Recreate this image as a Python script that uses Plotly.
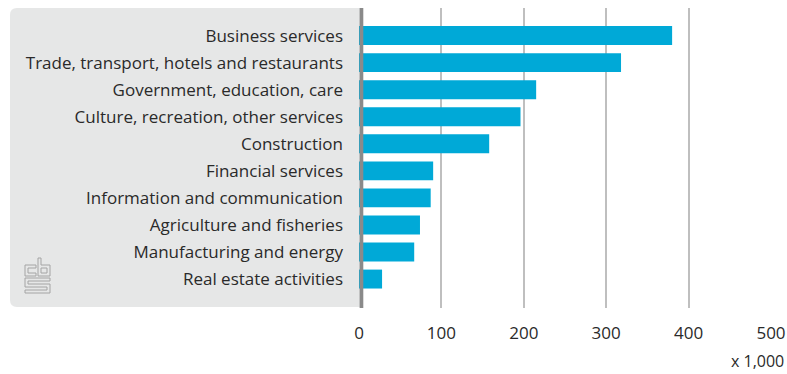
import plotly.graph_objects as go

categories = [
    "Business services",
    "Trade, transport, hotels and restaurants",
    "Government, education, care",
    "Culture, recreation, other services",
    "Construction",
    "Financial services",
    "Information and communication",
    "Agriculture and fisheries",
    "Manufacturing and energy",
    "Real estate activities",
]
values = [380, 318, 215, 196, 158, 90, 87, 74, 67, 28]
x_ticks = [0, 100, 200, 300, 400, 500]
x_tick_labels = ["0", "100", "200", "300", "400", "500"]
unit_label = "x 1,000"

W, H = 787, 374
L, R, T, B = 359, 16, 8, 66
PW, PH = W - L - R, H - T - B


def X(px):
    return (px - L) / PW


def Y(py):
    return (T + PH - py) / PH


FONT = "Open Sans"
FS = 17
TEXT = "#2a2a2a"

fig = go.Figure()
fig.add_trace(go.Bar(
    x=values, y=categories, orientation="h",
    marker=dict(color="#00a9d7", line=dict(width=0)),
    width=0.70,
    hoverinfo="x+y",
))

shapes = []
# grey panel with rounded left corners
r = 7
x0, x1, y0, y1 = 10, 360, 8, 307
path = (f"M {X(x1)},{Y(y0)} L {X(x0 + r)},{Y(y0)} "
        f"Q {X(x0)},{Y(y0)} {X(x0)},{Y(y0 + r)} "
        f"L {X(x0)},{Y(y1 - r)} Q {X(x0)},{Y(y1)} {X(x0 + r)},{Y(y1)} "
        f"L {X(x1)},{Y(y1)} Z")
shapes.append(dict(type="path", xref="paper", yref="paper", path=path,
                   fillcolor="#e6e7e7", line=dict(width=0), layer="below"))
# vertical axis bar
shapes.append(dict(type="rect", xref="paper", yref="paper",
                   x0=X(359.6), x1=X(363.3), y0=Y(8), y1=Y(308),
                   fillcolor="#8a8a8a", line=dict(width=0), layer="above"))


def poly(pts, closed=True):
    s = "M " + " L ".join(f"{X(a)},{Y(b)}" for a, b in pts)
    return s + (" Z" if closed else "")


logo_col = "#a4a4a4"
logo_paths = [
    # c
    poly([(36, 265), (25, 265), (25, 276), (36, 276), (36, 273), (28, 273), (28, 268), (36, 268)]),
    # b
    poly([(38, 258), (41, 258), (41, 265), (50, 265), (50, 276), (38, 276)]),
    poly([(41, 268), (47, 268), (47, 273), (41, 273)]),
    # s
    poly([(25, 278), (50, 278), (50, 281), (28, 281), (28, 284), (50, 284), (50, 293),
          (25, 293), (25, 290), (47, 290), (47, 287), (25, 287)]),
]
for p in logo_paths:
    shapes.append(dict(type="path", xref="paper", yref="paper", path=p,
                       line=dict(color=logo_col, width=1), fillcolor="rgba(0,0,0,0)",
                       layer="above"))

fig.update_layout(
    width=W, height=H, autosize=False,
    margin=dict(l=L, r=R, t=T, b=B, pad=0, autoexpand=False),
    paper_bgcolor="white", plot_bgcolor="rgba(0,0,0,0)",
    showlegend=False,
    bargap=0.3,
    font=dict(family=FONT, size=FS, color=TEXT),
    xaxis=dict(
        range=[0, 500], tickvals=x_ticks, ticktext=x_tick_labels,
        showgrid=True, gridcolor="#bfbfbf", gridwidth=1.5,
        zeroline=False, showline=False, ticks="", automargin=False,
        ticklabelstandoff=13, fixedrange=True,
        tickfont=dict(family=FONT, size=FS, color=TEXT),
    ),
    yaxis=dict(
        categoryorder="array", categoryarray=categories,
        range=[10.07, -1.02], automargin=False,
        showgrid=False, zeroline=False, showline=False, ticks="",
        ticklabelstandoff=15, fixedrange=True,
        tickfont=dict(family=FONT, size=FS, color=TEXT),
    ),
    shapes=shapes,
    annotations=[dict(text=unit_label, xref="paper", yref="paper",
                      x=X(786), y=Y(374), xanchor="right", yanchor="bottom",
                      showarrow=False, font=dict(family=FONT, size=16, color=TEXT))],
)

post = (
    "document.documentElement.style.overflow='hidden';"
    "document.body.style.margin='0';"
    "document.body.style.padding='0';"
    "document.body.style.overflow='hidden';"
)

fig.write_html(
    "out.html",
    config={"displayModeBar": False},
    post_script=post,
)
